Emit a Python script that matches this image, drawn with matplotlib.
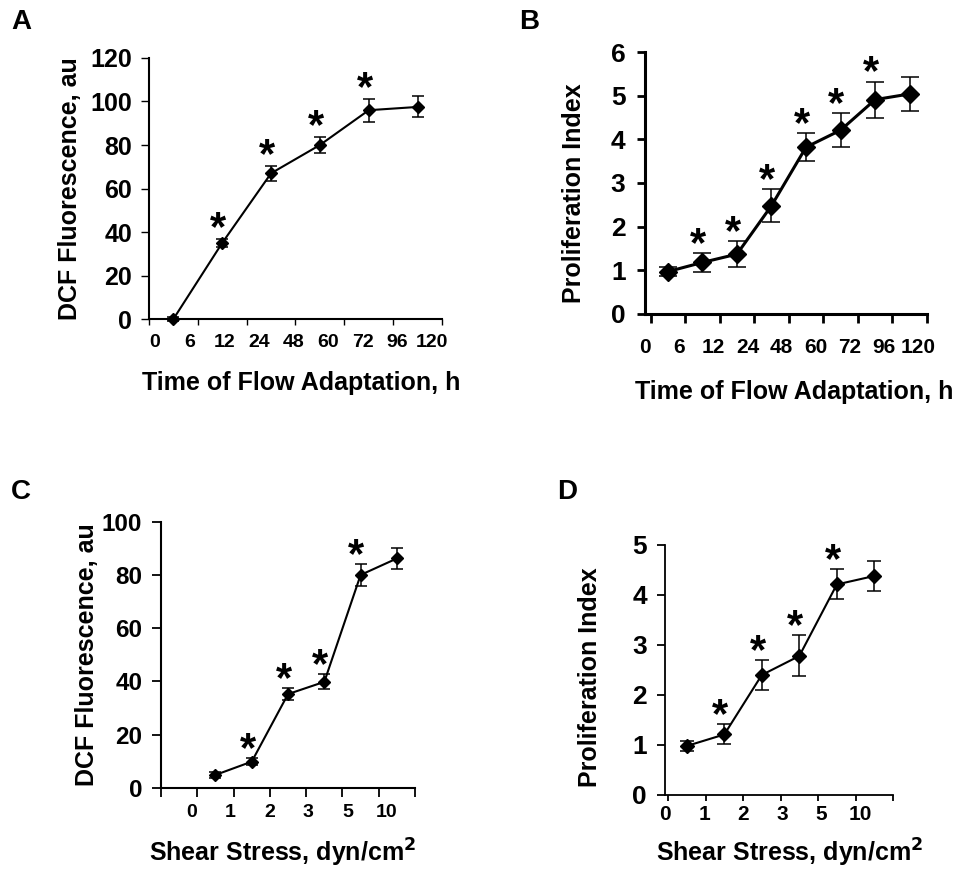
import matplotlib
matplotlib.use("Agg")
import numpy as np
import matplotlib.pyplot as plt

plt.rcParams['font.family'] = ['Liberation Sans', 'DejaVu Sans']
plt.rcParams['font.weight'] = 'bold'

# tick labels (placed independently of the category tick marks, as in the original)
time_labels = ['0', '6', '12', '24', '48', '60', '72', '96', '120']
shear_labels = ['0', '1', '2', '3', '5', '10']

# A: DCF fluorescence vs time of flow adaptation
dcf_time = [0, 35, 67, 80, 96, 97.5]
dcf_time_err = [0.8, 1.8, 3.4, 3.7, 5.2, 4.8]
dcf_time_sig = [False, True, True, True, True, False]

# B: proliferation index vs time of flow adaptation
prolif_time = [0.97, 1.18, 1.37, 2.48, 3.82, 4.21, 4.91, 5.04]
prolif_time_err = [0.1, 0.21, 0.3, 0.38, 0.32, 0.39, 0.41, 0.39]
prolif_time_sig = [False, True, True, True, True, True, True, False]

# C: DCF fluorescence vs shear stress
dcf_shear = [4.8, 9.8, 35.2, 39.8, 80, 86.2]
dcf_shear_err = [1.0, 1.3, 2.2, 2.8, 4.0, 4.0]
dcf_shear_sig = [False, True, True, True, True, False]

# D: proliferation index vs shear stress
prolif_shear = [0.98, 1.21, 2.4, 2.78, 4.21, 4.38]
prolif_shear_err = [0.1, 0.2, 0.3, 0.41, 0.3, 0.3]
prolif_shear_sig = [False, True, True, True, True, False]

fig = plt.figure(figsize=(9.63, 8.76), dpi=100)


def panel(rect, means, errs, sig, xlim, labels, label_pos, ylim, yticks,
          ylabel, xlabel, letter, letter_xy, st):
    ax = fig.add_axes(rect)
    x = np.arange(len(means))
    ax.errorbar(x, means, yerr=errs, fmt='-D', color='black', lw=st['lw'],
                ms=st['ms'], elinewidth=1.1, capsize=st['cap'], capthick=1.1,
                clip_on=False)
    for xi, m, e, s in zip(x, means, errs, sig):
        if s:
            ax.annotate('*', (xi, m + e), xytext=(-3, st['gap']),
                        textcoords='offset points', ha='center', va='baseline',
                        fontsize=30, fontweight='bold')
    ax.set_xlim(xlim)
    ax.set_ylim(ylim)
    ax.set_yticks(yticks)
    ax.set_xticks(np.arange(xlim[0], xlim[1] + 0.01, 1.0))
    ax.set_xticklabels([])
    ax.set_xticks(label_pos, labels, minor=True)
    ax.tick_params(axis='x', which='minor', length=0, pad=st['xpad'],
                   labelsize=st['xfs'])
    ax.tick_params(axis='x', which='major', length=st['xlen'], width=st['tw'],
                   direction='out')
    ax.tick_params(axis='y', length=st['ylen'], width=st['tw'], direction='out',
                   pad=st['ypad'], labelsize=st['yfs'])
    for sp in ['top', 'right']:
        ax.spines[sp].set_visible(False)
    for sp in ['left', 'bottom']:
        ax.spines[sp].set_linewidth(st['aw'])
    ax.set_ylabel(ylabel, fontsize=18, fontweight='bold', va='center')
    ax.yaxis.set_label_coords(*st['ylc'])
    ax.set_xlabel(xlabel, fontsize=18, fontweight='bold', va='center')
    ax.xaxis.set_label_coords(*st['xlc'])
    fig.text(letter_xy[0] / 963, 1 - letter_xy[1] / 876, letter, fontsize=20,
             fontweight='bold', ha='left', va='top')
    return ax


shear_xlabel = 'Shear Stress, dyn/cm$^{\\mathbf{2}}$'

panel([0.1547, 0.6358, 0.3043, 0.298], dcf_time, dcf_time_err, dcf_time_sig,
      (-0.5, 5.5), time_labels, np.linspace(-0.38, 5.3, 9),
      (0, 120), range(0, 121, 20), 'DCF Fluorescence, au',
      'Time of Flow Adaptation, h', 'A', (11, 9),
      dict(lw=1.5, ms=6, cap=4.5, gap=-1, xpad=11, xfs=14, xlen=4.5, ylen=6,
           tw=1.0, ypad=6, yfs=18, aw=1.5,
           ylc=(-0.27, 0.5), xlc=(0.519, -0.245)))

panel([0.6698, 0.6416, 0.2928, 0.299], prolif_time, prolif_time_err,
      prolif_time_sig, (-0.5, 7.5), time_labels, np.linspace(-0.66, 7.24, 9),
      (0, 6), range(0, 7), 'Proliferation Index',
      'Time of Flow Adaptation, h', 'B', (519, 9),
      dict(lw=2.2, ms=9, cap=6.5, gap=-2, xpad=17, xfs=15, xlen=6.5, ylen=6,
           tw=2.0, ypad=8, yfs=19, aw=2.2,
           ylc=(-0.252, 0.462), xlc=(0.528, -0.298)))

panel([0.1672, 0.1008, 0.2638, 0.3036], dcf_shear, dcf_shear_err,
      dcf_shear_sig, (-1.5, 5.5), shear_labels, np.linspace(-0.66, 4.71, 6),
      (0, 100), range(0, 101, 20), 'DCF Fluorescence, au',
      shear_xlabel, 'C', (11, 479),
      dict(lw=1.5, ms=6.5, cap=4.5, gap=-2, xpad=12, xfs=14, xlen=6.5, ylen=6.5,
           tw=1.3, ypad=7, yfs=17.5, aw=1.5,
           ylc=(-0.291, 0.5), xlc=(0.48, -0.245)))

panel([0.6906, 0.0925, 0.2368, 0.2854], prolif_shear, prolif_shear_err,
      prolif_shear_sig, (-0.5, 5.5), shear_labels, np.linspace(-0.58, 4.63, 6),
      (0, 5), range(0, 6), 'Proliferation Index',
      shear_xlabel, 'D', (557, 479),
      dict(lw=1.5, ms=7, cap=5, gap=-2, xpad=7, xfs=15, xlen=4, ylen=6,
           tw=1.3, ypad=7, yfs=19, aw=1.3,
           ylc=(-0.329, 0.472), xlc=(0.548, -0.232)))

fig.savefig('out.png', dpi=100)
